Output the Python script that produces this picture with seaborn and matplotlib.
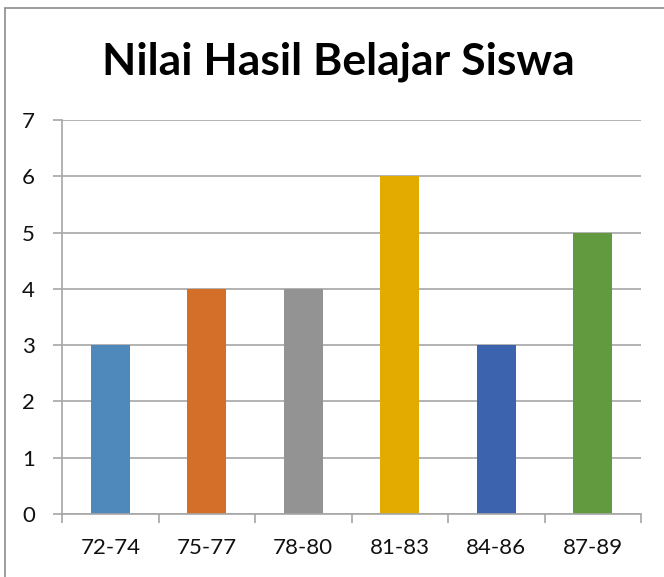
import matplotlib
matplotlib.use('Agg')
import matplotlib.pyplot as plt
import pandas as pd
import seaborn as sns
from matplotlib.lines import Line2D

categories = ["72-74", "75-77", "78-80", "81-83", "84-86", "87-89"]
counts = [3, 4, 4, 6, 3, 5]
bar_colors = ["#4F88BB", "#D46F2A", "#939393", "#E3AA00", "#3C64AE", "#629A40"]
title = "Nilai Hasil Belajar Siswa"

sns.set_theme(style="white")
plt.rcParams['font.family'] = ['Lato', 'DejaVu Sans']

df = pd.DataFrame({"kelas": categories, "jumlah": counts})

fig = plt.figure(figsize=(6.64, 5.77), dpi=100)
ax = fig.add_axes([62 / 664, 1 - 514 / 577, (641 - 62) / 664, (514 - 120) / 577])

sns.barplot(data=df, x="kelas", y="jumlah", hue="kelas", palette=bar_colors,
            width=0.4, saturation=1, legend=False, linewidth=0, ax=ax)

ax.set_xlim(-0.5, len(categories) - 0.5)
ax.set_ylim(0, 7)
ax.set_yticks(range(0, 8))
ax.set_xlabel("")
ax.set_ylabel("")
ax.yaxis.grid(True, color="#A6A6A6", linewidth=1.2)
ax.set_axisbelow(True)

# category boundary ticks like Excel
ax.set_xticks([i + 0.5 for i in range(-1, len(categories))], minor=True)
ax.tick_params(axis="x", which="minor", length=6.5, color="#A6A6A6", width=1.2, bottom=True)
ax.tick_params(axis="x", which="major", length=0, labelsize=16, pad=17, labelcolor="#111111")
ax.tick_params(axis="y", length=6.5, color="#A6A6A6", width=1.2, labelsize=16, pad=13,
               left=True, labelcolor="#111111")
ax.set_xticklabels(categories)

for side in ["top", "right"]:
    ax.spines[side].set_visible(False)
for side in ["left", "bottom"]:
    ax.spines[side].set_color("#A6A6A6")
    ax.spines[side].set_linewidth(1.2)

fig.text(0.51, 1 - 62 / 577, title, ha="center", va="center",
         fontsize=32, fontweight="bold", color="black")

# outer chart frame (left and top edges visible)
fig.add_artist(Line2D([5 / 664, 5 / 664], [0, 1 - 8 / 577], transform=fig.transFigure,
                      color="#8C8C8C", linewidth=1.2))
fig.add_artist(Line2D([5 / 664, 1], [1 - 8 / 577, 1 - 8 / 577], transform=fig.transFigure,
                      color="#8C8C8C", linewidth=1.2))

fig.savefig("out.png", dpi=100)
